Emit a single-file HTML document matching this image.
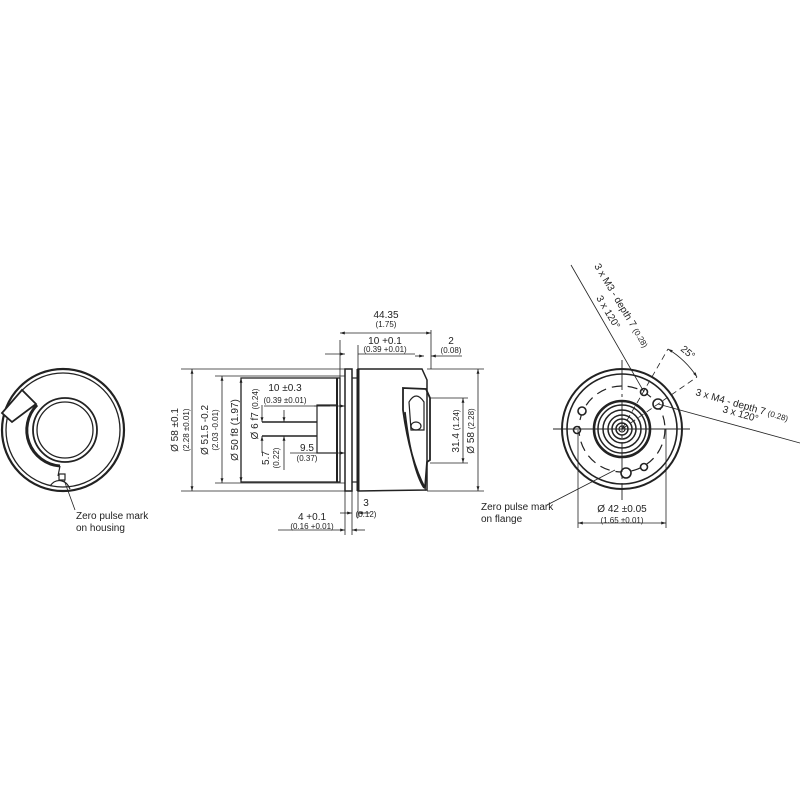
<!DOCTYPE html>
<html><head><style>
html,body{margin:0;padding:0;background:#fff;width:800px;height:800px;overflow:hidden}
svg{display:block}
text{font-family:"Liberation Sans",sans-serif;fill:#222}
</style></head><body>
<svg width="800" height="800" viewBox="0 0 800 800" xmlns="http://www.w3.org/2000/svg">
<defs>
<marker id="a" viewBox="0 0 10 10" refX="10" refY="5" markerWidth="6" markerHeight="6" orient="auto-start-reverse"><path d="M0,2 L10,5 L0,8 z" fill="#222"/></marker>
</defs>
<g fill="none" stroke="#222" stroke-width="1.2">
<!-- LEFT VIEW -->
<circle cx="63" cy="430" r="61" stroke-width="2.2"/>
<circle cx="63" cy="430" r="57" stroke-width="1.3"/>
<circle cx="65" cy="430" r="32" stroke-width="1.8"/>
<circle cx="65" cy="430" r="28" stroke-width="1.3"/>
<path d="M37,405 A36,36 0 0 0 60,466" stroke-width="3"/>
<polygon points="2,413 22,390 36,404 12,422" fill="#fff" stroke-width="1.8"/>
<path d="M60,466 L58,476" />
<path d="M50,486 Q55,479 62,481 Q67,482 70,489"/>
<rect x="59" y="474" width="6" height="6"/>
<line x1="64" y1="480" x2="75" y2="510" stroke-width="0.8"/>

<!-- MIDDLE VIEW -->
<rect x="241" y="378" width="99" height="104" stroke-width="1.3"/>
<line x1="337" y1="378" x2="337" y2="482" stroke-width="2"/>
<rect x="345" y="369" width="7" height="122" stroke-width="1.5"/>
<line x1="352" y1="378" x2="358" y2="378"/>
<line x1="352" y1="482" x2="358" y2="482"/>
<path d="M358,369 L422,369 L427,380 L427,490 L358,491 Z" stroke-width="1.5"/>
<line x1="358" y1="369" x2="358" y2="491" stroke-width="3"/>
<!-- shaft -->
<rect x="317" y="405" width="20" height="48"/>
<line x1="262" y1="422" x2="317" y2="422" stroke-width="1.5"/>
<line x1="262" y1="436" x2="317" y2="436" stroke-width="1.5"/>
<!-- connector -->
<path d="M403,388 L426,389 L430,398 L430,460 L427,462 L425,488 Q410,460 403,410 Z" stroke-width="1.8"/>
<path d="M409,402 Q416,390 424,402 L424,430 L411,430 Z"/>
<ellipse cx="416" cy="426" rx="5" ry="4"/>
<path d="M405,412 Q412,470 424,488" stroke-width="1.5"/>
<!-- dims -->
<g stroke-width="0.8">
<line x1="181" y1="369" x2="345" y2="369"/><line x1="181" y1="491" x2="345" y2="491"/>
<line x1="192" y1="369" x2="192" y2="491" marker-start="url(#a)" marker-end="url(#a)"/>
<line x1="215" y1="376" x2="345" y2="376"/><line x1="215" y1="483" x2="345" y2="483"/>
<line x1="222" y1="376" x2="222" y2="483" marker-start="url(#a)" marker-end="url(#a)"/>
<line x1="241" y1="378" x2="241" y2="482" marker-start="url(#a)" marker-end="url(#a)"/>
<line x1="262" y1="405" x2="262" y2="422" marker-end="url(#a)"/>
<line x1="262" y1="453" x2="262" y2="436" marker-end="url(#a)"/>
<line x1="284" y1="410" x2="284" y2="422" marker-end="url(#a)"/>
<line x1="284" y1="470" x2="284" y2="436" marker-end="url(#a)"/>
<line x1="264" y1="406" x2="330" y2="406"/>
<line x1="314" y1="406" x2="345" y2="406" marker-end="url(#a)"/>
<line x1="290" y1="453" x2="345" y2="453" marker-end="url(#a)"/>
<line x1="340" y1="340" x2="340" y2="378"/><line x1="431" y1="330" x2="431" y2="369"/>
<line x1="340" y1="333" x2="431" y2="333" marker-start="url(#a)" marker-end="url(#a)"/>
<line x1="358" y1="345" x2="358" y2="369"/>
<line x1="325" y1="354" x2="345" y2="354" marker-end="url(#a)"/>
<line x1="358" y1="354" x2="415" y2="354"/>
<line x1="415" y1="356" x2="424" y2="356" marker-end="url(#a)"/>
<line x1="431" y1="356" x2="440" y2="356" marker-start="url(#a)"/>
<line x1="440" y1="356" x2="462" y2="356"/>
<line x1="430" y1="398" x2="468" y2="398"/><line x1="430" y1="463" x2="468" y2="463"/>
<line x1="463" y1="398" x2="463" y2="463" marker-start="url(#a)" marker-end="url(#a)"/>
<line x1="427" y1="369" x2="484" y2="369"/><line x1="427" y1="491" x2="484" y2="491"/>
<line x1="478" y1="369" x2="478" y2="491" marker-start="url(#a)" marker-end="url(#a)"/>
<line x1="345" y1="491" x2="345" y2="535"/><line x1="352" y1="491" x2="352" y2="535"/><line x1="358" y1="491" x2="358" y2="518"/>
<line x1="340" y1="513" x2="352" y2="513" marker-end="url(#a)"/>
<line x1="370" y1="513" x2="358" y2="513" marker-end="url(#a)"/>
<line x1="278" y1="530" x2="345" y2="530" marker-end="url(#a)"/>
<line x1="365" y1="530" x2="352" y2="530" marker-end="url(#a)"/>
</g>

<!-- RIGHT VIEW -->
<circle cx="622" cy="429" r="60" stroke-width="2"/>
<circle cx="622" cy="429" r="55" stroke-width="1.6"/>
<circle cx="622" cy="429" r="43" stroke-dasharray="10,6"/>
<circle cx="622" cy="429" r="28" stroke-width="2.6"/>
<circle cx="622" cy="429" r="24" stroke-width="1.5"/>
<circle cx="622" cy="429" r="19" stroke-width="1.5"/>
<circle cx="622" cy="429" r="14" stroke-width="1.5"/>
<circle cx="622" cy="429" r="10" stroke-width="1.5"/>
<circle cx="622" cy="429" r="6" stroke-width="1.5"/>
<circle cx="622" cy="429" r="3"/>
<g stroke-width="1.6" fill="#fff">
<circle cx="644" cy="392" r="3.5"/><circle cx="658" cy="404" r="5"/><circle cx="582" cy="411" r="4"/>
<circle cx="577" cy="430" r="3.5"/><circle cx="626" cy="473" r="5"/><circle cx="644" cy="467" r="3.5"/>
</g>
<line x1="553" y1="429" x2="690" y2="429" stroke-width="0.9"/>
<line x1="622" y1="360" x2="622" y2="500" stroke-width="0.9" stroke-dasharray="30,4,3,4"/>
<g stroke-width="0.8">
<line x1="571" y1="265" x2="644" y2="392"/>
<line x1="658" y1="404" x2="800" y2="443"/>
<line x1="622" y1="429" x2="668" y2="349" stroke-dasharray="6,4"/>
<line x1="622" y1="429" x2="697" y2="377" stroke-dasharray="6,4"/>
<path d="M668,349 A92,92 0 0 1 697,377" marker-start="url(#a)" marker-end="url(#a)"/>
<line x1="615" y1="470" x2="547" y2="505"/>
<line x1="578" y1="430" x2="578" y2="528"/><line x1="666" y1="429" x2="666" y2="528"/>
<line x1="578" y1="523" x2="666" y2="523" marker-start="url(#a)" marker-end="url(#a)"/>
</g>
</g>

<g font-size="10">
<text x="76" y="519">Zero pulse mark</text>
<text x="76" y="531">on housing</text>
<text x="386" y="318" text-anchor="middle">44.35</text>
<text x="386" y="327" text-anchor="middle" font-size="8">(1.75)</text>
<text x="385" y="344" text-anchor="middle">10 +0.1</text>
<text x="385" y="352" text-anchor="middle" font-size="8">(0.39 +0.01)</text>
<text x="451" y="344" text-anchor="middle">2</text>
<text x="451" y="353" text-anchor="middle" font-size="8">(0.08)</text>
<text x="285" y="391" text-anchor="middle">10 ±0.3</text>
<text x="285" y="403" text-anchor="middle" font-size="8">(0.39 ±0.01)</text>
<text x="307" y="451" text-anchor="middle">9.5</text>
<text x="307" y="461" text-anchor="middle" font-size="8">(0.37)</text>
<text x="366" y="506" text-anchor="middle">3</text>
<text x="366" y="517" text-anchor="middle" font-size="8">(0.12)</text>
<text x="312" y="520" text-anchor="middle">4 +0.1</text>
<text x="312" y="529" text-anchor="middle" font-size="8">(0.16 +0.01)</text>
<text transform="translate(178,430) rotate(-90)" text-anchor="middle">Ø 58 ±0.1</text>
<text transform="translate(189,430) rotate(-90)" text-anchor="middle" font-size="8">(2.28 ±0.01)</text>
<text transform="translate(208,430) rotate(-90)" text-anchor="middle">Ø 51.5 -0.2</text>
<text transform="translate(218,430) rotate(-90)" text-anchor="middle" font-size="8">(2.03 -0.01)</text>
<text transform="translate(238,430) rotate(-90)" text-anchor="middle">Ø 50 f8 (1.97)</text>
<text transform="translate(258,414) rotate(-90)" text-anchor="middle">Ø 6 f7 <tspan font-size="8">(0.24)</tspan></text>
<text transform="translate(269,458) rotate(-90)" text-anchor="middle">5.7</text>
<text transform="translate(279,458) rotate(-90)" text-anchor="middle" font-size="8">(0.22)</text>
<text transform="translate(459,431) rotate(-90)" text-anchor="middle">31.4 <tspan font-size="8">(1.24)</tspan></text>
<text transform="translate(474,431) rotate(-90)" text-anchor="middle">Ø 58 <tspan font-size="8">(2.28)</tspan></text>
<text x="481" y="510">Zero pulse mark</text>
<text x="481" y="522">on flange</text>
<text x="622" y="512" text-anchor="middle">Ø 42 ±0.05</text>
<text x="622" y="523" text-anchor="middle" font-size="8">(1.65 ±0.01)</text>
<text transform="translate(594,266) rotate(59)">3 x M3 - depth 7 <tspan font-size="8">(0.28)</tspan></text>
<text transform="translate(596,298) rotate(59)">3 x 120°</text>
<text transform="translate(680,350) rotate(40)">25°</text>
<text transform="translate(695,395) rotate(16)">3 x M4 - depth 7 <tspan font-size="8">(0.28)</tspan></text>
<text transform="translate(722,412) rotate(16)">3 x 120°</text>
</g>
</svg>
</body></html>
